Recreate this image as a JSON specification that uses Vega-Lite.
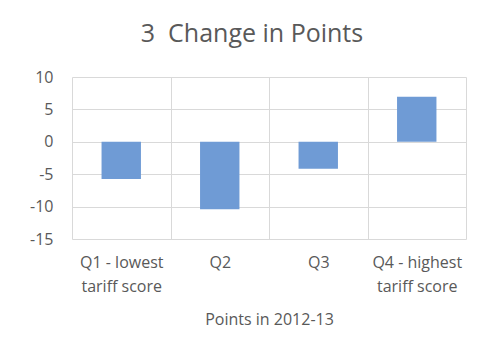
{
  "$schema": "https://vega.github.io/schema/vega-lite/v6.json",
  "autosize": {"type": "none"},
  "padding": {"left": 72, "top": 77, "right": 34, "bottom": 122},
  "width": 394,
  "height": 162,
  "background": "white",
  "title": {
    "text": "3\u00a0 Change in Points",
    "font": "Open Sans",
    "fontSize": 25,
    "fontWeight": "normal",
    "color": "#595959",
    "anchor": "middle",
    "frame": "group",
    "baseline": "alphabetic",
    "dx": -17,
    "dy": 22,
    "offset": 24
  },
  "data": {
    "values": [
      {"quartile": "Q1 - lowest tariff score", "change": -5.75},
      {"quartile": "Q2", "change": -10.4},
      {"quartile": "Q3", "change": -4.15},
      {"quartile": "Q4 - highest tariff score", "change": 6.95}
    ]
  },
  "mark": {"type": "bar", "width": {"band": 0.4}, "color": "#6f9bd5"},
  "encoding": {
    "x": {
      "field": "quartile",
      "type": "nominal",
      "sort": null,
      "scale": {"paddingInner": 0, "paddingOuter": 0},
      "axis": {
        "title": "Points in 2012-13",
        "titleFont": "Open Sans",
        "titleFontSize": 16,
        "titleFontWeight": "normal",
        "titleColor": "#595959",
        "titlePadding": 17,
        "labelAngle": 0,
        "labelFont": "Open Sans",
        "labelFontSize": 16,
        "labelColor": "#595959",
        "labelPadding": 15,
        "labelLineHeight": 24,
        "labelExpr": "datum.label == 'Q1 - lowest tariff score' ? ['Q1 - lowest', 'tariff score'] : datum.label == 'Q4 - highest tariff score' ? ['Q4 - highest', 'tariff score'] : datum.label",
        "tickBand": "extent",
        "ticks": false,
        "domain": false,
        "grid": true,
        "gridColor": "#d9d9d9",
        "gridWidth": 1
      }
    },
    "y": {
      "field": "change",
      "type": "quantitative",
      "scale": {"domain": [-15, 10], "nice": false},
      "axis": {
        "title": null,
        "values": [-15, -10, -5, 0, 5, 10],
        "labelExpr": "replace(datum.label, '\u2212', '-')",
        "labelFont": "Open Sans",
        "labelFontSize": 16,
        "labelColor": "#595959",
        "labelPadding": 19,
        "ticks": false,
        "domain": false,
        "grid": true,
        "gridColor": "#d9d9d9",
        "gridWidth": 1
      }
    }
  },
  "config": {
    "view": {"stroke": null}
  }
}
